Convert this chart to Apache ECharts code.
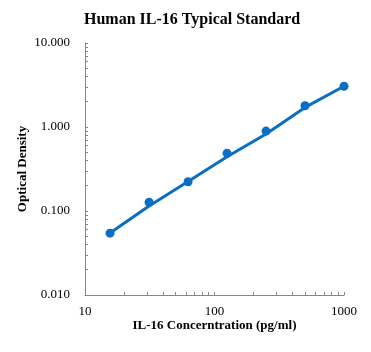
<!DOCTYPE html>
<html>
<head>
<meta charset="utf-8">
<script src="https://cdn.jsdelivr.net/npm/echarts@6/dist/echarts.min.js"></script>
<style>
html,body{margin:0;padding:0;background:#fff;}
#chart{width:371px;height:352px;}
</style>
</head>
<body>
<div id="chart"></div>
<script>
var concentrations = [15.6, 31.25, 62.5, 125, 250, 500, 1000];
var odValues = [0.0545, 0.127, 0.223, 0.486, 0.894, 1.79, 3.06];
var fitValues = [0.0548, 0.115, 0.225, 0.443, 0.824, 1.71, 3.06];
var xLabelValues = [10, 100, 1000];
var yLabelValues = [0.01, 0.1, 1, 10];
var xTickValues = [10,20,30,40,50,60,70,80,90,100,200,300,400,500,600,700,800,900,1000];
var yTickValues = [0.01,0.02,0.03,0.04,0.05,0.06,0.07,0.08,0.09,0.1,0.2,0.3,0.4,0.5,0.6,0.7,0.8,0.9,1,2,3,4,5,6,7,8,9,10];

var blue = '#0A6FC2';
var axisGray = '#868686';
var serif = '"Liberation Serif", "Times New Roman", serif';

var chart = echarts.init(document.getElementById('chart'));
chart.setOption({
  animation: false,
  backgroundColor: '#fff',
  title: {
    text: 'Human IL-16 Typical Standard',
    left: 79,
    top: 7,
    textStyle: {fontFamily: serif, fontWeight: 'bold', fontSize: 16, color: '#000'}
  },
  grid: {left: 85, right: 27, top: 43, bottom: 57},
  xAxis: {
    type: 'log', logBase: 10, min: 10, max: 1000,
    name: 'IL-16 Concerntration (pg/ml)',
    nameLocation: 'middle', nameGap: 24, nameMoveOverlap: false,
    nameTextStyle: {fontFamily: serif, fontWeight: 'bold', fontSize: 13, color: '#000'},
    axisLine: {show: true, lineStyle: {color: axisGray, width: 1}},
    axisTick: {show: true, inside: true, length: 3, customValues: xTickValues, lineStyle: {color: axisGray}},
    minorTick: {show: false},
    splitLine: {show: false},
    axisLabel: {customValues: xLabelValues, fontFamily: serif, fontSize: 13, color: '#000', margin: 10,
      formatter: function (v) { return String(Math.round(v)); }}
  },
  yAxis: {
    type: 'log', logBase: 10, min: 0.01, max: 10,
    name: 'Optical Density',
    nameLocation: 'middle', nameGap: 56, nameRotate: 90, nameMoveOverlap: false,
    nameTextStyle: {fontFamily: serif, fontWeight: 'bold', fontSize: 13, color: '#000'},
    axisLine: {show: true, lineStyle: {color: axisGray, width: 1}},
    axisTick: {show: true, inside: true, length: 3, customValues: yTickValues, lineStyle: {color: axisGray}},
    minorTick: {show: false},
    splitLine: {show: false},
    axisLabel: {customValues: yLabelValues, fontFamily: serif, fontSize: 13, color: '#000', margin: 15,
      formatter: function (v) { return Number(v).toFixed(3); }}
  },
  series: [
    {
      type: 'line',
      data: concentrations.map(function (c, i) { return [c, fitValues[i]]; }),
      showSymbol: false,
      smooth: false,
      lineStyle: {color: blue, width: 3},
      z: 2
    },
    {
      type: 'scatter',
      data: concentrations.map(function (c, i) { return [c, odValues[i]]; }),
      symbol: 'circle',
      symbolSize: 9,
      itemStyle: {color: blue, opacity: 1},
      z: 3
    }
  ]
});
</script>
</body>
</html>
